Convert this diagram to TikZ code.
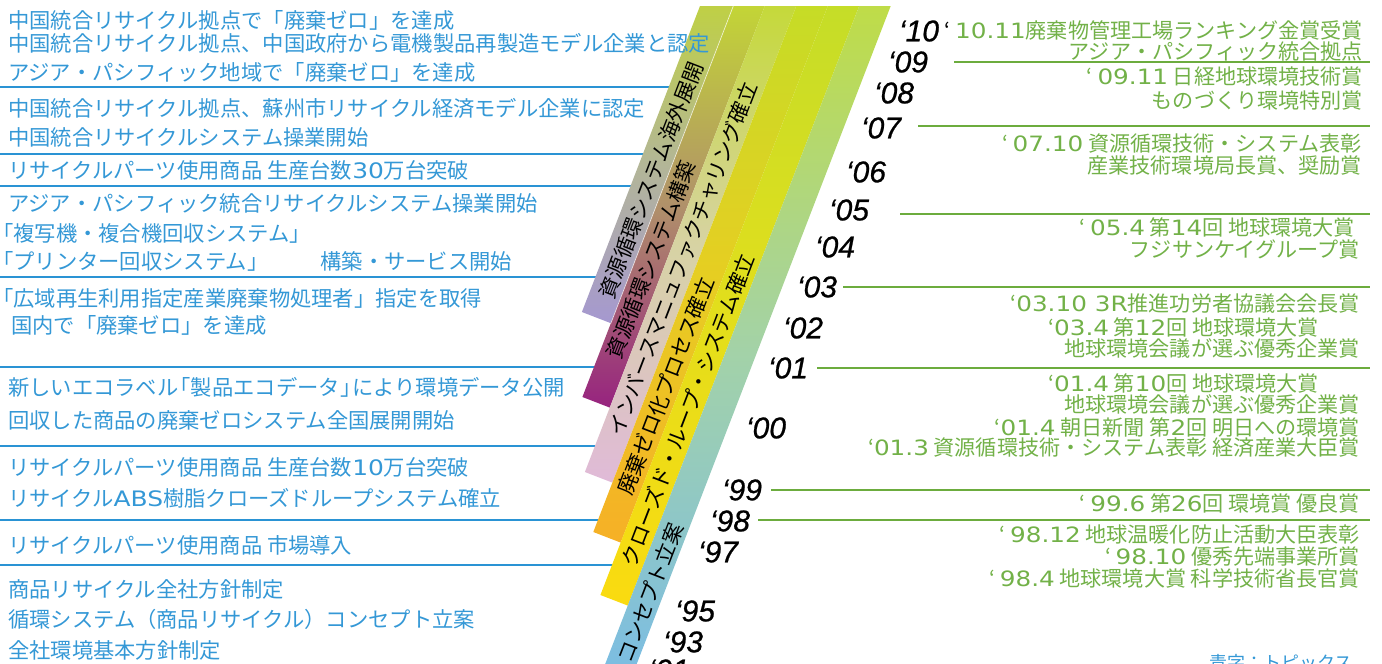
\documentclass[tikz,border=0pt]{standalone}
\usepackage{fontspec}
\setmainfont{Noto Sans CJK JP}
\newfontfamily\yearfont[FakeBold=0.7]{Liberation Sans}
\newfontfamily\digfont[FakeStretch=1.17]{DejaVu Sans}
\newcommand{\dgt}[1]{{\digfont #1}}
\definecolor{tblue}{HTML}{3498D6}
\definecolor{lblue}{HTML}{2A93D4}
\definecolor{tgreen}{HTML}{72B148}
\definecolor{lgreen}{HTML}{6CAC3E}
\definecolor{b1t}{HTML}{BFD045}
\definecolor{b1m}{HTML}{B3B697}
\definecolor{b1b}{HTML}{A598D0}
\definecolor{b2t}{HTML}{C3D536}
\definecolor{b2m}{HTML}{B0906A}
\definecolor{b2b}{HTML}{97237F}
\definecolor{b3t}{HTML}{C5D93A}
\definecolor{b3m}{HTML}{D7D3A3}
\definecolor{b3b}{HTML}{E0BAD8}
\definecolor{b4t}{HTML}{C6DC26}
\definecolor{b4m}{HTML}{E6CE22}
\definecolor{b4b}{HTML}{F6B026}
\definecolor{b5t}{HTML}{C5DD28}
\definecolor{b5m}{HTML}{E2DE1C}
\definecolor{b5b}{HTML}{FADB10}
\definecolor{b6t}{HTML}{BFDC48}
\definecolor{b6m}{HTML}{A3D2A8}
\definecolor{b6b}{HTML}{78BBE8}
\begin{document}
\begin{tikzpicture}[x=1pt,y=-1pt,
  lt/.style={anchor=west,inner sep=0pt,text=tblue,font=\fontsize{21.3}{25}\selectfont},
  rt/.style={anchor=east,inner sep=0pt,text=tgreen,font=\fontsize{21.1}{25}\selectfont},
  yr/.style={inner sep=0pt,font=\yearfont\itshape\fontsize{30}{32}\selectfont},
  bt/.style={inner sep=0pt,rotate=68.9,font=\fontsize{21}{25}\selectfont},
  bline/.style={draw=lblue,line width=2pt},
  gline/.style={draw=lgreen,line width=2.2pt}]
\useasboundingbox (0,0) rectangle (1382,664);

% blue separator lines (left)
\foreach \yy/\xe [count=\i] in {87/680,154/655,186/640,277/605,367/605,446/605,520/608,565/622}{
  \coordinate (bs\i) at (0,\yy);
  \coordinate (be\i) at (\xe,\yy);
  \draw[bline] (bs\i) -- (be\i);
}

% band geometry
\coordinate (t1) at (700,6);
\coordinate (t2) at (733.3,6);
\coordinate (t3) at (764.8,6);
\coordinate (t4) at (796.3,6);
\coordinate (t5) at (827.8,6);
\coordinate (t6) at (859.2,6);
\coordinate (t7) at (890.7,6);
\coordinate (p1) at (581.9,312);   \coordinate (q1) at (610.9,323.2);
\coordinate (p2) at (582.4,397);   \coordinate (q2) at (609.8,407.6);
\coordinate (p3) at (584.9,472);   \coordinate (q3) at (612.3,482.6);
\coordinate (p4) at (593.3,532);   \coordinate (q4) at (620.7,542.6);
\coordinate (p5) at (600.4,595);   \coordinate (q5) at (627.8,605.6);
\coordinate (p6) at (591.3,700);   \coordinate (q6) at (622.8,700);

\shade[top color=b1t,bottom color=b1b,middle color=b1m] (t1) -- (t2) -- (q1) -- (p1) -- cycle;
\shade[top color=b2t,bottom color=b2b,middle color=b2m] (t2) -- (t3) -- (q2) -- (p2) -- cycle;
\shade[top color=b3t,bottom color=b3b,middle color=b3m] (t3) -- (t4) -- (q3) -- (p3) -- cycle;
\shade[top color=b4t,bottom color=b4b,middle color=b4m] (t4) -- (t5) -- (q4) -- (p4) -- cycle;
\shade[top color=b5t,bottom color=b5b,middle color=b5m] (t5) -- (t6) -- (q5) -- (p5) -- cycle;
\shade[top color=b6t,bottom color=b6b,middle color=b6m] (t6) -- (t7) -- (q6) -- (p6) -- cycle;
\draw[white,opacity=0.7,line width=0.7pt] (t2) -- (q1);

% band labels
\node[bt] (b1) at (651,180) {資源循環システム海外展開};
\node[bt] (b2) at (651,260) {資源循環システム構築};
\node[bt] (b3) at (683,259) {インバースマニュファクチャリング確立};
\node[bt] (b4) at (666,386) {廃棄ゼロ化プロセス確立};
\node[bt] (b5) at (688,410) {クローズド・ループ・システム確立};
\node[bt] (b6) at (650,593) {コンセプト立案};

% left topics
\node[lt] (l1) at (8,20) {中国統合リサイクル拠点で「廃棄ゼロ」を達成};
\node[lt] (l2) at (8,43) {中国統合リサイクル拠点、中国政府から電機製品再製造モデル企業と認定};
\node[lt] (l3) at (8,72) {アジア・パシフィック地域で「廃棄ゼロ」を達成};
\node[lt] (l4) at (8,108) {中国統合リサイクル拠点、蘇州市リサイクル経済モデル企業に認定};
\node[lt] (l5) at (8,137) {中国統合リサイクルシステム操業開始};
\node[lt] (l6) at (8,170) {リサイクルパーツ使用商品 生産台数\dgt{30}万台突破};
\node[lt] (l7) at (8,203) {アジア・パシフィック統合リサイクルシステム操業開始};
\node[lt] (l8) at (-8,233) {「複写機・複合機回収システム」};
\node[lt] (l9) at (-8,261) {「プリンター回収システム」\hspace{52pt}構築・サービス開始};
\node[lt] (l10) at (-8,298) {「広域再生利用指定産業廃棄物処理者」指定を取得};
\node[lt] (l11) at (11,325) {国内で「廃棄ゼロ」を達成};
\node[lt] (l12) at (8,387) {新しいエコラベル\kern-9pt「製品エコデータ」\kern-9pt により環境データ公開};
\node[lt] (l13) at (8,420) {回収した商品の廃棄ゼロシステム全国展開開始};
\node[lt] (l14) at (8,467) {リサイクルパーツ使用商品 生産台数\dgt{10}万台突破};
\node[lt] (l15) at (8,498) {リサイクル\dgt{ABS}樹脂クローズドループシステム確立};
\node[lt] (l16) at (8,545) {リサイクルパーツ使用商品 市場導入};
\node[lt] (l17) at (8,589) {商品リサイクル全社方針制定};
\node[lt] (l18) at (8,619) {循環システム（商品リサイクル）コンセプト立案};
\node[lt] (l19) at (8,650) {全社環境基本方針制定};

% green separator lines (right)
\foreach \yy/\xs [count=\i] in {62/954,126/918,214/900,287/843,368/817,490/771,520/758}{
  \coordinate (gs\i) at (\xs,\yy);
  \coordinate (ge\i) at (1370,\yy);
  \draw[gline] (gs\i) -- (ge\i);
}

% year labels
\node[yr] (y10) at (919,31) {‘10};
\node[yr] (y09) at (908,62) {‘09};
\node[yr] (y08) at (894,93) {‘08};
\node[yr] (y07) at (881,128) {‘07};
\node[yr] (y06) at (866,172) {‘06};
\node[yr] (y05) at (849,210) {‘05};
\node[yr] (y04) at (835,247) {‘04};
\node[yr] (y03) at (817,287) {‘03};
\node[yr] (y02) at (803,328) {‘02};
\node[yr] (y01) at (788,368) {‘01};
\node[yr] (y00) at (766,428) {‘00};
\node[yr] (y99) at (742,490) {‘99};
\node[yr] (y98) at (730,521) {‘98};
\node[yr] (y97) at (718,552) {‘97};
\node[yr] (y95) at (695,611) {‘95};
\node[yr] (y93) at (683,642) {‘93};
\node[yr] (y91) at (669,670) {‘91};

% right awards
\node[rt] (r1) at (1363,30) {{\color{black}‘} \dgt{10.11}廃棄物管理工場ランキング金賞受賞};
\node[rt] (r2) at (1363,52) {アジア・パシフィック統合拠点};
\node[rt] (r3) at (1363,77) {‘ \dgt{09.11} 日経地球環境技術賞};
\node[rt] (r4) at (1363,101) {ものづくり環境特別賞};
\node[rt] (r5) at (1362,144) {‘ \dgt{07.10} 資源循環技術・システム表彰};
\node[rt] (r6) at (1362,166) {産業技術環境局長賞、奨励賞};
\node[rt] (r7) at (1355,227) {‘ \dgt{05.4} 第\dgt{14}回 地球環境大賞};
\node[rt] (r8) at (1360,250) {フジサンケイグループ賞};
\node[rt] (r9) at (1360,304) {‘\dgt{03.10 3R}推進功労者協議会会長賞};
\node[rt] (r10) at (1319,327) {‘\dgt{03.4} 第\dgt{12}回 地球環境大賞};
\node[rt] (r11) at (1360,348) {地球環境会議が選ぶ優秀企業賞};
\node[rt] (r12) at (1319,383) {‘\dgt{01.4} 第\dgt{10}回 地球環境大賞};
\node[rt] (r13) at (1360,404) {地球環境会議が選ぶ優秀企業賞};
\node[rt] (r14) at (1360,427) {‘\dgt{01.4} 朝日新聞 第\dgt{2}回 明日への環境賞};
\node[rt] (r15) at (1360,448) {‘\dgt{01.3} 資源循環技術・システム表彰 経済産業大臣賞};
\node[rt] (r16) at (1360,503) {‘ \dgt{99.6} 第\dgt{26}回 環境賞 優良賞};
\node[rt] (r17) at (1360,535) {‘ \dgt{98.12} 地球温暖化防止活動大臣表彰};
\node[rt] (r18) at (1360,557) {‘ \dgt{98.10} 優秀先端事業所賞};
\node[rt] (r19) at (1360,578) {‘ \dgt{98.4} 地球環境大賞 科学技術省長官賞};
\node[rt,text=tblue,font=\fontsize{18}{22}\selectfont] (leg) at (1353,663) {青字：トピックス};
\end{tikzpicture}
\end{document}
